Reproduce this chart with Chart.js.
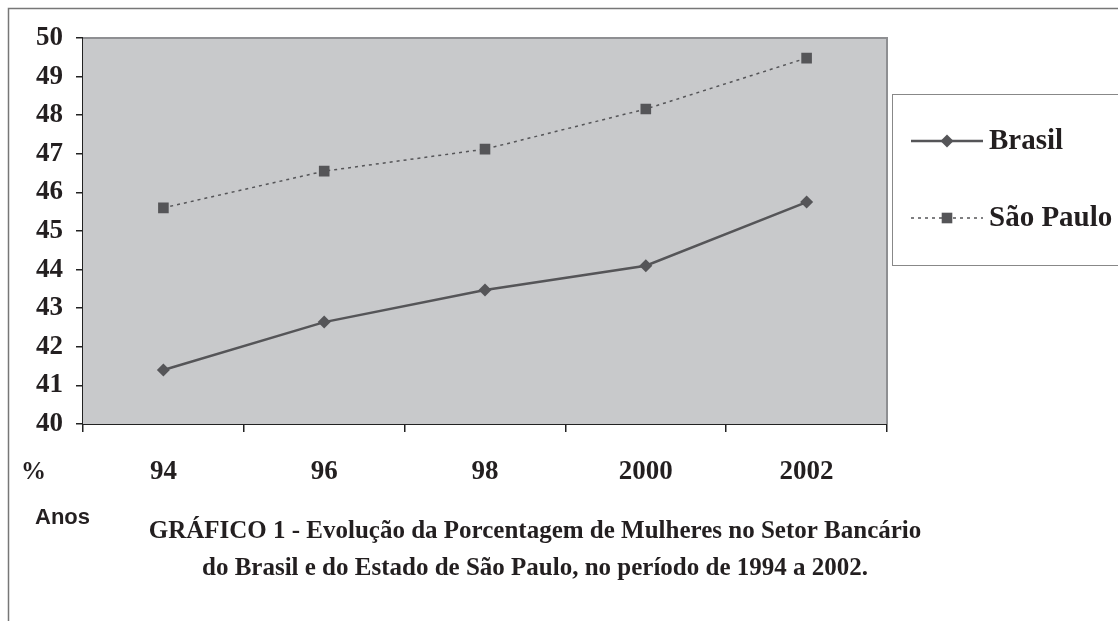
<!DOCTYPE html>
<html>
<head>
<meta charset="utf-8">
<script src="https://cdn.jsdelivr.net/npm/chart.js@4/dist/chart.umd.min.js"></script>
<style>
  html, body { margin: 0; padding: 0; background: #fff; }
  #wrap { width: 1118px; height: 621px; position: relative; }
</style>
</head>
<body>
<div id="wrap"><canvas id="grafico" width="1118" height="621"></canvas></div>
<script>
// dados
const anos = ["94", "96", "98", "2000", "2002"];
const brasil = [41.4, 42.64, 43.47, 44.1, 45.75];
const saoPaulo = [45.6, 46.55, 47.12, 48.16, 49.48];
const yTicks = [40, 41, 42, 43, 44, 45, 46, 47, 48, 49, 50];

const serif = '"Liberation Serif", "Times New Roman", serif';
const inkColor = '#555558';
const textColor = '#231f20';

// fundo cinza da área do gráfico, moldura e textos extras
const moldura = {
    id: 'moldura',
    beforeDatasetsDraw(chart) {
        const { ctx, chartArea: a } = chart;
        ctx.save();
        ctx.fillStyle = '#c8c9cb';
        ctx.fillRect(a.left, a.top, a.right - a.left, a.bottom - a.top);
        ctx.strokeStyle = '#8e8f92';
        ctx.lineWidth = 2;
        ctx.beginPath();
        ctx.moveTo(a.left, a.top);
        ctx.lineTo(a.right, a.top);
        ctx.lineTo(a.right, a.bottom);
        ctx.stroke();
        ctx.restore();
    },
    afterDraw(chart) {
        const { ctx } = chart;
        ctx.save();
        // borda externa
        ctx.strokeStyle = '#777';
        ctx.lineWidth = 1.5;
        ctx.beginPath();
        ctx.moveTo(8.5, 621);
        ctx.lineTo(8.5, 8.5);
        ctx.lineTo(1118, 8.5);
        ctx.stroke();

        ctx.fillStyle = textColor;
        ctx.textBaseline = 'middle';
        ctx.textAlign = 'left';
        ctx.font = 'bold 25px ' + serif;
        ctx.fillText('%', 21, 473);
        ctx.font = 'bold 22px "Liberation Sans", Arial, sans-serif';
        ctx.fillText('Anos', 35, 518);

        ctx.textAlign = 'center';
        ctx.font = 'bold 25px ' + serif;
        ctx.fillText('GRÁFICO 1 - Evolução da Porcentagem de Mulheres no Setor Bancário', 535, 532);
        ctx.fillText('do Brasil e do Estado de São Paulo, no período de 1994 a 2002.', 535, 569);

        // legenda
        ctx.strokeStyle = '#888';
        ctx.lineWidth = 1;
        ctx.strokeRect(892.5, 94.5, 240, 171);
        const rows = [141, 218];
        chart.data.datasets.forEach((ds, i) => {
            const y = rows[i];
            ctx.strokeStyle = ds.borderColor;
            ctx.lineWidth = ds.borderWidth;
            ctx.setLineDash(ds.borderDash || []);
            ctx.beginPath();
            ctx.moveTo(911, y);
            ctx.lineTo(983, y);
            ctx.stroke();
            ctx.setLineDash([]);
            ctx.fillStyle = ds.pointBackgroundColor;
            Chart.helpers.drawPoint(ctx, {
                pointStyle: ds.pointStyle, radius: ds.pointRadius, borderWidth: 0, rotation: 0
            }, 947, y);
            ctx.fillStyle = textColor;
            ctx.textAlign = 'left';
            ctx.font = 'bold 29px ' + serif;
            ctx.fillText(ds.label, 989, y + 1);
        });
        ctx.restore();
    }
};

new Chart(document.getElementById('grafico'), {
    type: 'line',
    data: {
        labels: anos,
        datasets: [{
            label: 'Brasil',
            data: brasil,
            borderColor: inkColor,
            borderWidth: 2.5,
            pointStyle: 'rectRot',
            pointRadius: 6.5,
            pointBackgroundColor: inkColor,
            pointBorderWidth: 0,
            tension: 0
        }, {
            label: 'São Paulo',
            data: saoPaulo,
            borderColor: inkColor,
            borderWidth: 1.5,
            borderDash: [3, 4],
            pointStyle: 'rect',
            pointRadius: 7.5,
            pointBackgroundColor: inkColor,
            pointBorderWidth: 0,
            tension: 0
        }]
    },
    options: {
        responsive: false,
        animation: false,
        layout: { padding: { left: 0, top: 38, right: 231, bottom: 0 } },
        plugins: { legend: { display: false }, tooltip: { enabled: false } },
        scales: {
            x: {
                offset: true,
                afterFit(scale) { scale.height = 197; },
                grid: { offset: true, drawOnChartArea: false, tickLength: 8, color: '#222', lineWidth: 1.5 },
                border: { color: '#222', width: 2 },
                ticks: {
                    color: textColor, padding: 24,
                    font: { family: serif, size: 27, weight: 'bold' }
                }
            },
            y: {
                min: 40, max: 50,
                afterFit(scale) { scale.width = 83; },
                afterBuildTicks(scale) { scale.ticks = yTicks.map(v => ({ value: v })); },
                grid: { drawOnChartArea: false, tickLength: 7, color: '#222', lineWidth: 1.5 },
                border: { color: '#222', width: 2 },
                ticks: {
                    color: textColor, padding: 13,
                    font: { family: serif, size: 27, weight: 'bold' }
                }
            }
        }
    },
    plugins: [moldura]
});
</script>
</body>
</html>
